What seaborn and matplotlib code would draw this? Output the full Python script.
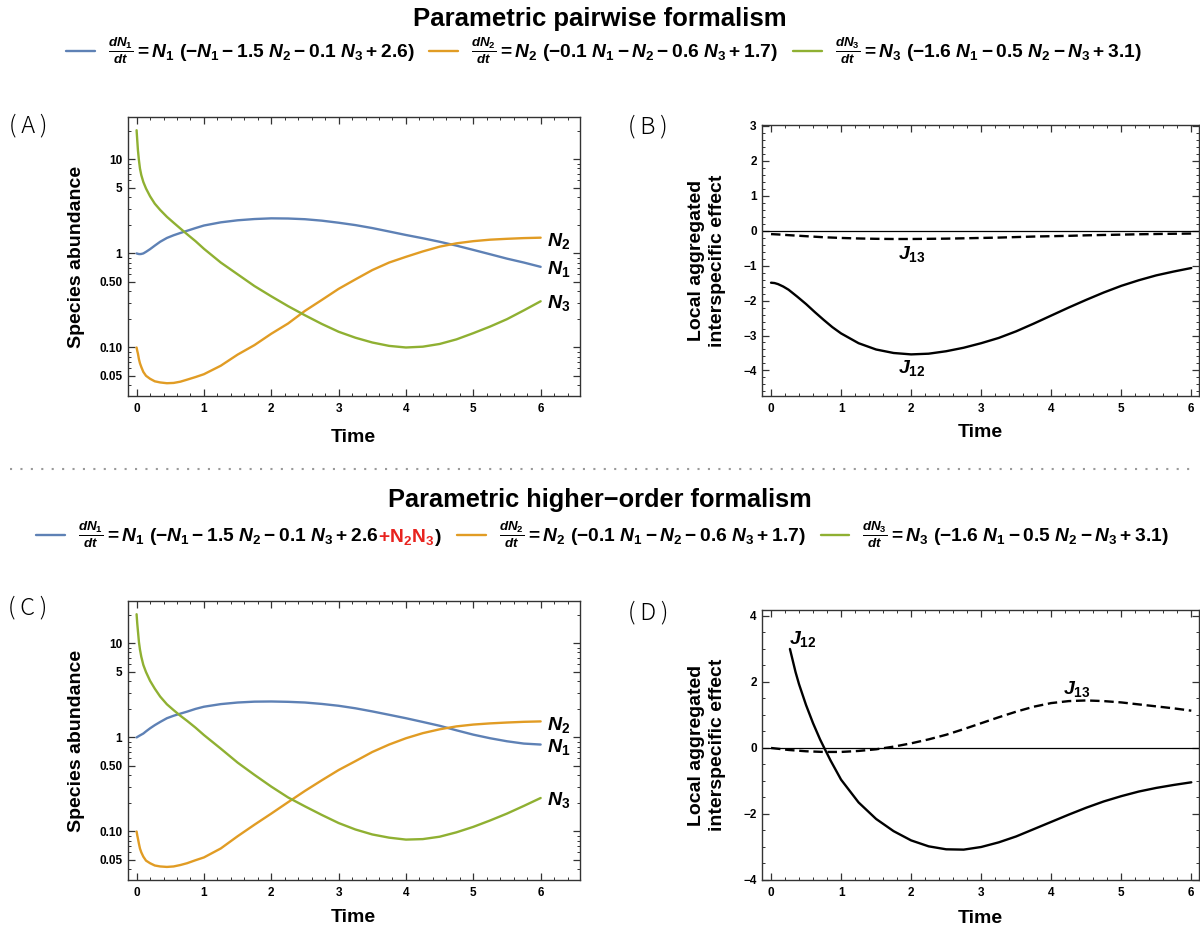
import numpy as np
import pandas as pd
import seaborn as sns
import matplotlib
matplotlib.use("Agg")
import matplotlib.pyplot as plt
from matplotlib import ticker
from matplotlib.lines import Line2D
from matplotlib.offsetbox import TextArea, HPacker
from matplotlib import font_manager as fm

# ---------------- data ----------------
time_abund = [0, 0.01, 0.02, 0.035, 0.05, 0.07, 0.1, 0.14, 0.2, 0.27, 0.35, 0.45, 0.55,
              0.65, 0.75, 0.875, 1.0, 1.25, 1.5, 1.75, 2.0, 2.25, 2.5, 2.75, 3.0, 3.25,
              3.5, 3.75, 4.0, 4.25, 4.5, 4.75, 5.0, 5.25, 5.5, 5.75, 6.0]

# Panel A  (pairwise)
n1_pair = [1.00, 0.995, 0.99, 0.985, 0.984, 0.987, 1.00, 1.04, 1.11, 1.21, 1.33, 1.46, 1.56,
           1.65, 1.74, 1.86, 1.98, 2.14, 2.25, 2.32, 2.36, 2.35, 2.31, 2.23, 2.12, 2.00,
           1.86, 1.71, 1.57, 1.45, 1.33, 1.21, 1.09, 0.98, 0.88, 0.80, 0.72]
n2_pair = [0.100, 0.092, 0.086, 0.075, 0.068, 0.062, 0.055, 0.050, 0.0465, 0.0437, 0.0425,
           0.0417, 0.0420, 0.0433, 0.0455, 0.0485, 0.052, 0.064, 0.084, 0.106, 0.140, 0.180,
           0.245, 0.32, 0.42, 0.53, 0.665, 0.80, 0.92, 1.05, 1.18, 1.28, 1.35, 1.40, 1.43,
           1.455, 1.47]
n3_pair = [20.4, 15.9, 12.5, 9.75, 8.0, 6.8, 5.75, 4.9, 4.05, 3.38, 2.90, 2.45, 2.12,
           1.84, 1.60, 1.35, 1.12, 0.80, 0.60, 0.45, 0.35, 0.275, 0.22, 0.178, 0.147, 0.127,
           0.113, 0.104, 0.100, 0.102, 0.109, 0.122, 0.142, 0.167, 0.200, 0.248, 0.31]

# Panel C  (higher-order)
n1_hoi = [1.00, 1.01, 1.02, 1.035, 1.05, 1.07, 1.10, 1.16, 1.25, 1.35, 1.46, 1.60, 1.70,
          1.79, 1.88, 2.01, 2.12, 2.26, 2.35, 2.40, 2.41, 2.39, 2.35, 2.27, 2.17, 2.04,
          1.89, 1.74, 1.60, 1.46, 1.33, 1.19, 1.07, 0.98, 0.91, 0.86, 0.84]
n2_hoi = [0.100, 0.091, 0.084, 0.074, 0.066, 0.060, 0.054, 0.049, 0.046, 0.0435, 0.0425,
          0.042, 0.0425, 0.044, 0.046, 0.0495, 0.053, 0.066, 0.089, 0.118, 0.155, 0.205,
          0.27, 0.35, 0.45, 0.56, 0.70, 0.84, 0.98, 1.11, 1.22, 1.31, 1.37, 1.41, 1.44,
          1.465, 1.48]
n3_hoi = [20.4, 16.2, 13.5, 10.3, 8.6, 7.2, 5.9, 4.95, 4.0, 3.3, 2.72, 2.25, 1.95,
          1.70, 1.50, 1.27, 1.06, 0.76, 0.54, 0.40, 0.30, 0.23, 0.185, 0.150, 0.123, 0.105,
          0.093, 0.086, 0.082, 0.083, 0.088, 0.098, 0.112, 0.131, 0.155, 0.187, 0.227]

# Panel B
time_effect = [0, 0.05, 0.1, 0.175, 0.25, 0.375, 0.5, 0.625, 0.75, 0.875, 1.0, 1.25, 1.5,
               1.75, 2.0, 2.25, 2.5, 2.75, 3.0, 3.25, 3.5, 3.75, 4.0, 4.25, 4.5, 4.75, 5.0,
               5.25, 5.5, 5.75, 6.0]
j12_pair = [-1.49, -1.50, -1.53, -1.60, -1.69, -1.89, -2.10, -2.33, -2.55, -2.76, -2.94,
            -3.22, -3.40, -3.50, -3.54, -3.52, -3.45, -3.35, -3.22, -3.07, -2.88, -2.66,
            -2.43, -2.20, -1.98, -1.77, -1.58, -1.42, -1.28, -1.17, -1.07]
j13_pair = [-0.10, -0.105, -0.11, -0.12, -0.13, -0.145, -0.16, -0.175, -0.19, -0.20, -0.21,
            -0.225, -0.235, -0.24, -0.24, -0.235, -0.23, -0.22, -0.21, -0.20, -0.185, -0.17,
            -0.16, -0.15, -0.135, -0.125, -0.115, -0.105, -0.097, -0.09, -0.085]

# Panel D
time_j12_hoi = [0.27, 0.35, 0.4, 0.5, 0.6, 0.7, 0.76, 0.85, 1.0, 1.25, 1.5, 1.75, 2.0, 2.25,
                2.5, 2.75, 3.0, 3.25, 3.5, 3.75, 4.0, 4.25, 4.5, 4.75, 5.0, 5.25, 5.5, 5.75, 6.0]
j12_hoi = [3.0, 2.3, 1.93, 1.30, 0.75, 0.26, 0.0, -0.38, -0.96, -1.65, -2.15, -2.52, -2.80,
           -2.98, -3.07, -3.08, -3.00, -2.86, -2.68, -2.46, -2.24, -2.02, -1.81, -1.62,
           -1.46, -1.32, -1.21, -1.12, -1.04]
time_j13_hoi = [0, 0.25, 0.5, 0.75, 1.0, 1.25, 1.5, 1.75, 2.0, 2.25, 2.5, 2.75, 3.0, 3.25,
                3.5, 3.75, 4.0, 4.25, 4.5, 4.75, 5.0, 5.25, 5.5, 5.75, 6.0]
j13_hoi = [0.0, -0.06, -0.10, -0.12, -0.12, -0.09, -0.04, 0.04, 0.14, 0.26, 0.40, 0.57, 0.75,
           0.93, 1.10, 1.25, 1.36, 1.42, 1.44, 1.42, 1.38, 1.32, 1.26, 1.20, 1.13]

species = ["N1", "N2", "N3"]
species_colors = ["#5E81B5", "#E19C24", "#8FB032"]

eq_pair = [r"$\frac{dN_1}{dt} = N_1\ (-N_1 - 1.5\ N_2 - 0.1\ N_3 + 2.6)$",
           r"$\frac{dN_2}{dt} = N_2\ (-0.1\ N_1 - N_2 - 0.6\ N_3 + 1.7)$",
           r"$\frac{dN_3}{dt} = N_3\ (-1.6\ N_1 - 0.5\ N_2 - N_3 + 3.1)$"]
eq_hoi_first = r"$\frac{dN_1}{dt} = N_1\ (-N_1 - 1.5\ N_2 - 0.1\ N_3 + 2.6$"
eq_hoi_red = r"$\mathsf{+N_2N_3}$"

# ---------------- style ----------------
sns.set_theme(style="white")
names = {f.name for f in fm.fontManager.ttflist}
TICK_FAMILY = "Liberation Sans Narrow" if "Liberation Sans Narrow" in names else "Liberation Sans"
plt.rcParams["font.family"] = ["Liberation Sans", "DejaVu Sans"]
plt.rcParams["font.weight"] = "bold"
plt.rcParams["axes.labelweight"] = "bold"
plt.rcParams["text.color"] = "black"
plt.rcParams["axes.labelcolor"] = "black"
plt.rcParams["mathtext.fontset"] = "custom"
plt.rcParams["mathtext.rm"] = "Liberation Sans:bold"
plt.rcParams["mathtext.it"] = "Liberation Sans:italic:bold"
plt.rcParams["mathtext.bf"] = "Liberation Sans:bold"
plt.rcParams["mathtext.sf"] = "Liberation Sans"

W, H = 1200, 931
fig = plt.figure(figsize=(W / 100, H / 100), dpi=100)
fig.patch.set_facecolor("white")

LW = 1.7


def rect(left, top, right, bottom):
    return [left / W, 1 - bottom / H, (right - left) / W, (bottom - top) / H]


axA = fig.add_axes(rect(127.7, 117, 579.7, 396))
axB = fig.add_axes(rect(762.2, 125, 1199, 396))
axC = fig.add_axes(rect(127.7, 601, 579.7, 880))
axD = fig.add_axes(rect(762.2, 610, 1199, 880))


def frame(ax, xlim):
    ax.set_xlim(*xlim)
    ax.xaxis.set_major_locator(ticker.MultipleLocator(1))
    ax.xaxis.set_minor_locator(ticker.MultipleLocator(0.2))
    ax.tick_params(which="both", direction="in", top=True, right=True,
                   bottom=True, left=True, colors="#333333", labelcolor="black",
                   labelsize=8.5, labelfontfamily=TICK_FAMILY)
    ax.tick_params(axis="x", pad=5)
    ax.tick_params(axis="y", pad=4)
    ax.tick_params(which="major", length=5, width=0.9)
    ax.tick_params(which="minor", length=2.5, width=0.7)
    for s in ax.spines.values():
        s.set_visible(True)
        s.set_color("#333333")
        s.set_linewidth(1.0)
    ax.set_facecolor("white")
    ax.grid(False)


def axis_labels(ax, ylabel, ylab_x, xlab_y, **kw):
    ax.set_xlabel("Time", fontsize=14)
    ax.set_ylabel(ylabel, fontsize=14, **kw)
    ax.xaxis.label.set_va("center")
    ax.xaxis.set_label_coords(0.5, xlab_y)
    ax.yaxis.label.set_va("center")
    ax.yaxis.set_label_coords(ylab_x, 0.5)


def abundance_panel(ax, n1, n2, n3, labels_y, xlab_y):
    df = pd.DataFrame({
        "Time": time_abund * 3,
        "value": list(n1) + list(n2) + list(n3),
        "species": [s for s in species for _ in time_abund],
    })
    sns.lineplot(data=df, x="Time", y="value", hue="species", hue_order=species,
                 palette=species_colors, linewidth=LW, legend=False, ax=ax)
    ax.set_yscale("log")
    ax.set_ylim(0.0305, 28.2)
    frame(ax, (-0.132, 6.58))
    ax.yaxis.set_major_locator(ticker.FixedLocator([0.05, 0.1, 0.5, 1, 5, 10]))
    ax.yaxis.set_major_formatter(ticker.FixedFormatter(["0.05", "0.10", "0.50", "1", "5", "10"]))
    ax.yaxis.set_minor_locator(ticker.LogLocator(base=10, subs=np.arange(2, 10), numticks=30))
    ax.yaxis.set_minor_formatter(ticker.NullFormatter())
    axis_labels(ax, "Species abundance", -0.113, xlab_y)
    for name, yv in zip([r"$N_2$", r"$N_1$", r"$N_3$"], labels_y):
        ax.text(6.1, yv, name, fontsize=14, ha="left", va="center")


def effect_panel(ax, t12, j12, t13, j13, ylim, major, minor, lab12, lab13, xlab_y):
    df = pd.DataFrame({
        "Time": list(t12) + list(t13),
        "value": list(j12) + list(j13),
        "series": ["J12"] * len(t12) + ["J13"] * len(t13),
    })
    ax.axhline(0, color="black", linewidth=0.9, zorder=1)
    sns.lineplot(data=df, x="Time", y="value", style="series", style_order=["J12", "J13"],
                 dashes={"J12": "", "J13": (4, 2)}, color="black", linewidth=LW,
                 legend=False, ax=ax, zorder=3)
    ax.set_ylim(*ylim)
    frame(ax, (-0.126, 6.11))
    ax.yaxis.set_major_locator(ticker.MultipleLocator(major))
    ax.yaxis.set_minor_locator(ticker.MultipleLocator(minor))
    ax.yaxis.set_major_formatter(ticker.FuncFormatter(lambda v, p: f"{v:.0f}".replace("-", "\u2212")))
    axis_labels(ax, "Local aggregated\ninterspecific effect", -0.126, xlab_y, linespacing=1.3)
    ax.text(lab12[0], lab12[1], r"$J_{12}$", fontsize=14, ha="center", va="center")
    ax.text(lab13[0], lab13[1], r"$J_{13}$", fontsize=14, ha="center", va="center")


abundance_panel(axA, n1_pair, n2_pair, n3_pair, [1.35, 0.69, 0.30], -0.147)
abundance_panel(axC, n1_hoi, n2_hoi, n3_hoi, [1.36, 0.80, 0.214], -0.136)
effect_panel(axB, time_effect, j12_pair, time_effect, j13_pair, (-4.73, 3.02), 1, 0.2,
             (2.01, -3.94), (2.01, -0.66), -0.135)
effect_panel(axD, time_j12_hoi, j12_hoi, time_j13_hoi, j13_hoi, (-4.0, 4.18), 2, 0.5,
             (0.45, 3.3), (4.36, 1.8), -0.142)

# ---------------- titles, legends, panel letters ----------------
fig.text(0.5, 1 - 19 / H, "Parametric pairwise formalism", ha="center", va="center",
         fontsize=18.5, fontweight="bold")
fig.text(0.5, 1 - 500 / H, "Parametric higher\u2212order formalism", ha="center", va="center",
         fontsize=18.3, fontweight="bold")

LEG_FS = 13.8
handles = [Line2D([], [], color=c, linewidth=LW) for c in species_colors]
leg_kw = dict(loc="center", ncol=3, frameon=False, fontsize=LEG_FS, handlelength=1.5,
              handletextpad=0.68, columnspacing=0.8, borderaxespad=0, borderpad=0)
leg1 = fig.legend(handles, eq_pair, bbox_to_anchor=(0.503, 1 - 51 / H), **leg_kw)
leg2 = fig.legend(handles, [eq_hoi_first, eq_pair[1], eq_pair[2]],
                  bbox_to_anchor=(0.502, 1 - 535 / H), **leg_kw)

# append the red higher-order term to the first entry of the second legend
col0 = leg2._legend_handle_box.get_children()[0]
item0 = col0.get_children()[0]
kids = item0.get_children()
red_box = TextArea(eq_hoi_red, textprops=dict(color="#E8231E", fontsize=LEG_FS))
close_box = TextArea(r"$)$", textprops=dict(color="black", fontsize=LEG_FS))
packed = HPacker(pad=0, sep=0, align="baseline", children=[kids[1], red_box, close_box])
kids[1] = packed
packed.set_figure(fig)

# dotted separator
fig.add_artist(Line2D([10 / W, 1195 / W], [1 - 468.5 / H] * 2, transform=fig.transFigure,
                      color="#9a9a9a", linewidth=1.5, linestyle=(0, (1, 4))))

for lab, (x, y) in zip(["(\u2009A\u2009)", "(\u2009B\u2009)", "(\u2009C\u2009)", "(\u2009D\u2009)"],
                       [(28, 126), (648, 127), (28, 608), (648, 613)]):
    fig.text(x / W, 1 - y / H, lab, ha="center", va="center", fontsize=17,
             fontweight="light", family=["Noto Sans CJK JP", "DejaVu Sans"])

fig.savefig("out.png", dpi=100, facecolor="white")
